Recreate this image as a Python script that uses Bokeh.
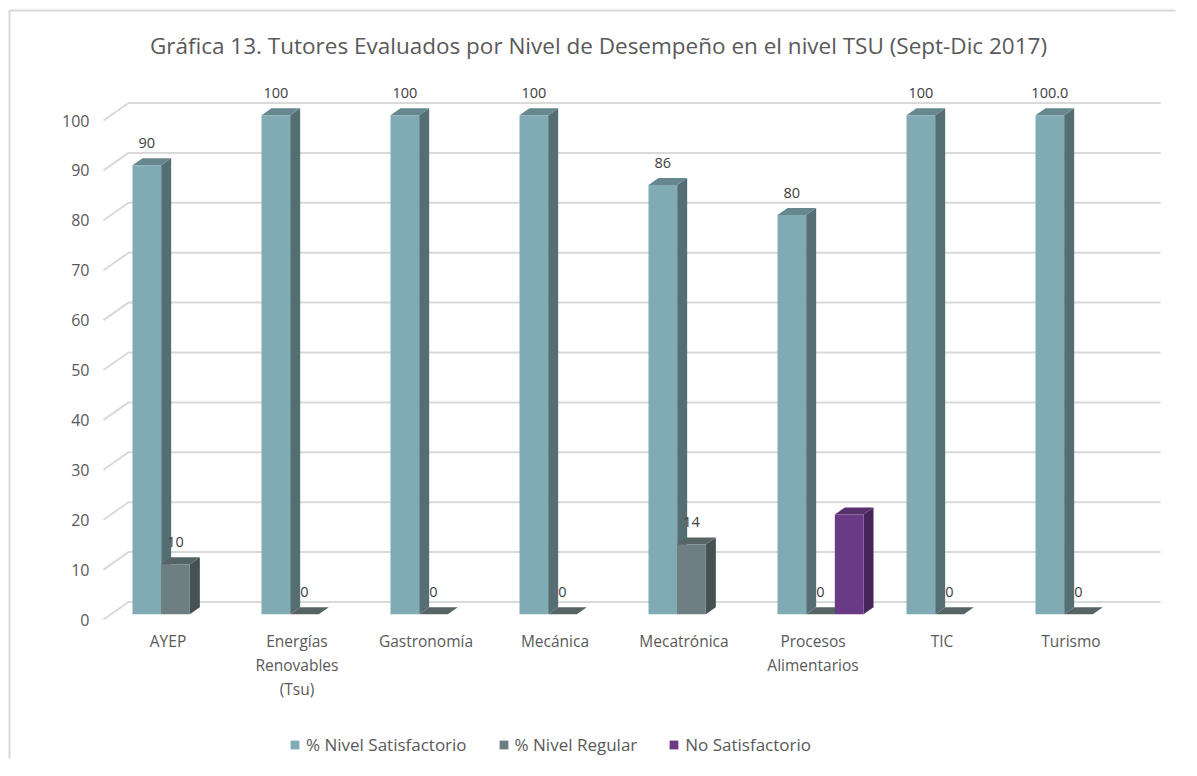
from bokeh.plotting import figure
from bokeh.models import Range1d, FixedTicker, Label, Legend, LegendItem, ColumnDataSource
from bokeh.core.properties import value
from bokeh.embed import file_html
from bokeh.resources import INLINE

# ---------------- data ----------------
categories = ["AYEP", "Energías\nRenovables\n(Tsu)", "Gastronomía", "Mecánica",
              "Mecatrónica", "Procesos\nAlimentarios", "TIC", "Turismo"]
series_names = ["% Nivel Satisfactorio", "% Nivel Regular", "No Satisfactorio"]
satisfactorio = [90, 100, 100, 100, 86, 80, 100, 100]
regular = [10, 0, 0, 0, 14, 0, 0, 0]
no_satisfactorio = [None, None, None, None, None, 20, None, None]
sat_labels = ["90", "100", "100", "100", "86", "80", "100", "100.0"]
reg_labels = ["10", "0", "0", "0", "14", "0", "0", "0"]
y_ticks = [0, 10, 20, 30, 40, 50, 60, 70, 80, 90, 100]
title_text = "Gráfica 13. Tutores Evaluados por Nivel de Desempeño en el nivel TSU (Sept-Dic 2017)"

# ---------------- style / geometry ----------------
FONT = "Open Sans"
TXT = "#595959"
front_cols = ["#80ABB5", "#6D7F81", "#6B3A86"]
side_cols = ["#546E73", "#455152", "#45255A"]
top_cols = ["#66878E", "#566466", "#57306E"]

W, H = 1181, 760          # canvas size
MR, MB = 6, 2             # small right / bottom border
FL, FB = 103, 619         # pixel position of x=0 / y=0 on the front plane
SX, SY = 129.0, 4.99      # pixels per category slot / per value unit

n = len(categories)
DX = 25 / SX              # depth offset (x, slot units)
DY = 17.5 / SY            # depth offset (y, value units)
w = 1 / 4.5
gap = 0.75 * w
bf, bd = 0.3, 0.4         # bar front depth fraction, bar depth fraction

def px_x(px):
    return (px - FL) / SX

def px_y(py):
    return (FB - py) / SY

p = figure(width=W, height=H, output_backend="svg", toolbar_location=None,
           x_range=Range1d(px_x(0), px_x(W - MR)), y_range=Range1d(px_y(H - MB), px_y(0)),
           min_border_left=0, min_border_top=0, min_border_right=MR, min_border_bottom=MB)
p.title.visible = False
p.outline_line_color = None
p.xgrid.visible = False
p.ygrid.visible = False
p.background_fill_color = None
p.border_fill_color = "white"

# chart area border (left + top)
p.multi_line([[px_x(9), px_x(W)], [px_x(9), px_x(9)]],
             [[px_y(10), px_y(10)], [px_y(10), px_y(H)]],
             line_color="#d9d9d9", line_width=2)

# 3D gridlines
gxs, gys = [], []
for v in y_ticks:
    gxs.append([0, DX, n + DX])
    gys.append([v, v + DY, v + DY])
p.multi_line(gxs, gys, line_color="#d9d9d9", line_width=2)

# bars
all_series = [satisfactorio, regular, no_satisfactorio]
front_renderers = []
for k, vals in enumerate(all_series):
    sx, sy, tx, ty, fx, fy = [], [], [], [], [], []
    for i, v in enumerate(vals):
        if v is None:
            continue
        x0 = i + gap + k * w + bf * DX
        x1 = x0 + w
        y0 = bf * DY
        y1 = v + y0
        ddx, ddy = bd * DX, bd * DY
        sx.append([x1, x1 + ddx, x1 + ddx, x1]); sy.append([y0, y0 + ddy, y1 + ddy, y1])
        tx.append([x0, x1, x1 + ddx, x0 + ddx]); ty.append([y1, y1, y1 + ddy, y1 + ddy])
        fx.append([x0, x1, x1, x0]); fy.append([y0, y0, y1, y1])
    p.patches(sx, sy, fill_color=side_cols[k], line_color=None)
    p.patches(tx, ty, fill_color=top_cols[k], line_color=None)
    r = p.patches(fx, fy, fill_color=front_cols[k], line_color=None)
    front_renderers.append(r)

# data labels
for k, (vals, labs) in enumerate([(satisfactorio, sat_labels), (regular, reg_labels)]):
    xs = [i + gap + k * w + bf * DX + w / 2 for i in range(n)]
    ys = [v + bf * DY for v in vals]
    src = ColumnDataSource(dict(x=xs, y=ys, t=labs))
    p.text(x="x", y="y", text="t", source=src, text_align="center", text_baseline="middle",
           y_offset=-22, text_font=value(FONT), text_font_size="14.5px", text_color="#404040")

# axes (fixed at the front plane origin)
p.yaxis.fixed_location = 0
p.yaxis.ticker = FixedTicker(ticks=y_ticks)
p.yaxis.axis_line_color = None
p.yaxis.major_tick_line_color = None
p.yaxis.minor_tick_line_color = None
p.yaxis.major_label_standoff = 8
p.yaxis.major_label_text_font = FONT
p.yaxis.major_label_text_font_size = "16px"
p.yaxis.major_label_text_color = TXT

p.xaxis.fixed_location = 0
p.xaxis.ticker = FixedTicker(ticks=[i + 0.5 for i in range(n)])
p.xaxis.major_label_overrides = {i + 0.5: c for i, c in enumerate(categories)}
p.xaxis.axis_line_color = None
p.xaxis.major_tick_line_color = None
p.xaxis.minor_tick_line_color = None
p.xaxis.major_label_standoff = 4
p.xaxis.major_label_text_font = FONT
p.xaxis.major_label_text_font_size = "15.5px"
p.xaxis.major_label_text_line_height = 1.1
p.xaxis.major_label_text_color = TXT

# title
p.add_layout(Label(x=px_x(598), y=px_y(45), text=title_text,
                   text_align="center", text_baseline="middle", text_font=FONT,
                   text_font_size="22.5px", text_color=TXT))

# legend
legend = Legend(items=[LegendItem(label=s, renderers=[r]) for s, r in zip(series_names, front_renderers)],
                orientation="horizontal", location=(289, H - MB - 756), padding=0, margin=0,
                spacing=31, label_standoff=6, glyph_width=11, glyph_height=11, label_height=22,
                label_text_font=FONT, label_text_font_size="17px", label_text_color=TXT,
                background_fill_alpha=0, border_line_color=None)
p.add_layout(legend, "center")

open("out.html", "w").write(file_html(p, INLINE))
